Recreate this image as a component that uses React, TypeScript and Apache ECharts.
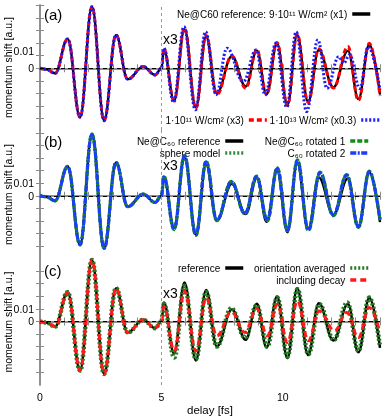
import React, { useEffect, useRef } from 'react';
import * as echarts from 'echarts';

// delay [fs] and momentum shift [a.u.] before 5 fs (shared by all curves)
const preDelay = [0, 0.25, 0.62, 1.14, 1.65, 2.14, 2.64, 3.13, 3.61, 4.25, 4.74, 5.0];
const preShift = [0, -0.0008, -0.004, 0.0233, -0.0389, 0.0489, -0.0416, 0.0264, -0.0087, 0.0013, -0.0053, 0];

// after 5 fs (displayed x3) : [delay, shift]
const refPost: [number, number][] = [
  [5.1, 0.015], [5.52, -0.0255], [5.95, 0.031], [6.42, -0.031], [6.84, 0.025], [7.28, -0.0198],
  [7.9, 0.0095], [8.47, -0.0145], [8.93, 0.014], [9.33, -0.0206], [9.76, 0.0198], [10.19, -0.029],
  [10.59, 0.0264], [11.04, -0.0265], [11.48, 0.0145], [12.08, -0.0151], [12.68, 0.0138],
  [13.11, -0.0245], [13.56, 0.0188], [14.0, -0.021],
];
const lowPost: [number, number][] = [
  [5.1, 0.0155], [5.52, -0.026], [5.95, 0.0318], [6.42, -0.0315], [6.84, 0.026], [7.28, -0.021],
  [7.9, 0.0098], [8.47, -0.0158], [8.93, 0.0148], [9.33, -0.021], [9.76, 0.0205], [10.19, -0.0297],
  [10.59, 0.027], [11.04, -0.027], [11.48, 0.0152], [12.08, -0.0157], [12.68, 0.0172],
  [13.11, -0.0255], [13.56, 0.0198], [14.0, -0.022],
];
const highPost: [number, number][] = [
  [5.1, 0.016], [5.5, -0.027], [5.93, 0.033], [6.4, -0.033], [6.82, 0.029], [7.25, -0.021],
  [7.7, 0.0159], [8.37, -0.0106], [8.9, 0.0145], [9.27, -0.021], [9.72, 0.02], [10.16, -0.031],
  [10.55, 0.029], [10.98, -0.0344], [11.44, 0.0225], [11.82, -0.0159], [12.3, 0.0092],
  [12.5, 0.004], [12.75, 0.0106], [13.17, -0.016], [13.52, 0.017], [14.0, -0.017],
];
const spherePost: [number, number][] = [
  [5.1, 0.015], [5.52, -0.026], [5.95, 0.031], [6.42, -0.031], [6.84, 0.026], [7.28, -0.0195],
  [7.88, 0.0105], [8.44, -0.014], [8.92, 0.0148], [9.36, -0.0195], [9.77, 0.021], [10.19, -0.0275],
  [10.6, 0.0272], [11.05, -0.027], [11.53, 0.0175], [12.08, -0.0152], [12.63, 0.016],
  [13.11, -0.0245], [13.56, 0.0188], [14.0, -0.019],
];
const rot1Post: [number, number][] = [
  [5.1, 0.0155], [5.52, -0.0268], [5.95, 0.032], [6.42, -0.0315], [6.84, 0.0275], [7.28, -0.0197],
  [7.88, 0.0114], [8.44, -0.0145], [8.92, 0.0155], [9.36, -0.0198], [9.77, 0.0222], [10.19, -0.0278],
  [10.6, 0.0285], [11.05, -0.0277], [11.53, 0.0188], [12.08, -0.0158], [12.63, 0.0168],
  [13.11, -0.025], [13.56, 0.0195], [14.0, -0.0195],
];
const rot2Post: [number, number][] = [
  [5.1, 0.015], [5.52, -0.0265], [5.95, 0.0315], [6.42, -0.031], [6.84, 0.027], [7.28, -0.0193],
  [7.88, 0.0111], [8.44, -0.014], [8.92, 0.015], [9.36, -0.0193], [9.77, 0.0217], [10.19, -0.0272],
  [10.6, 0.0278], [11.05, -0.0272], [11.53, 0.0183], [12.08, -0.0153], [12.63, 0.0164],
  [13.11, -0.0246], [13.56, 0.019], [14.0, -0.019],
];
const avgPost: [number, number][] = [
  [5.1, 0.014], [5.53, -0.0286], [5.95, 0.0283], [6.42, -0.0298], [6.84, 0.0235], [7.28, -0.0198],
  [7.88, 0.0105], [8.44, -0.0127], [8.92, 0.0129], [9.36, -0.0198], [9.77, 0.019], [10.19, -0.0278],
  [10.6, 0.0256], [11.05, -0.026], [11.5, 0.0137], [12.1, -0.0146], [12.65, 0.015],
  [13.11, -0.0233], [13.56, 0.019], [14.0, -0.02],
];
const decayPost: [number, number][] = [
  [5.1, 0.012], [5.53, -0.0233], [5.95, 0.0241], [6.42, -0.0235], [6.84, 0.019], [7.28, -0.0114],
  [7.88, 0.0076], [8.44, -0.0087], [8.92, 0.0103], [9.36, -0.0114], [9.77, 0.0137], [10.19, -0.0167],
  [10.6, 0.0163], [11.05, -0.0153], [11.5, 0.0084], [12.13, -0.0074], [12.63, 0.0071],
  [13.11, -0.0127], [13.56, 0.0111], [14.0, -0.0087],
];

const xTickLabels = [0, 5, 10];
const yTickValues = [-0.04, -0.03, -0.02, -0.01, 0, 0.01, 0.02, 0.03, 0.04, 0.05];
const yRanges: [number, number][] = [[-0.049, 0.0502], [-0.0502, 0.0522], [-0.0504, 0.0496]];
const yLabelValues = [[0, 0.0136], [0, 0.01], [0, 0.01]];

const FONT = 'Liberation Sans, Arial, sans-serif';
const FRAME = '#8a8a8a';

function withPre(post: [number, number][]) {
  return preDelay.map((d, i) => [d, preShift[i]]).concat(post);
}

export default function App() {
  const ref = useRef<HTMLDivElement>(null);
  useEffect(() => {
    if (!ref.current) return;
    const chart = echarts.init(ref.current, null, { renderer: 'svg' });
    const grids = [
      { left: 40, top: 5, width: 340, height: 125, outerBoundsMode: 'none', containLabel: false },
      { left: 40, top: 130, width: 340, height: 129, outerBoundsMode: 'none', containLabel: false },
      { left: 40, top: 259, width: 340, height: 126, outerBoundsMode: 'none', containLabel: false },
    ];
    const xAxis: any[] = [];
    const yAxis: any[] = [];
    grids.forEach((_, g) => {
      const last = g === 2;
      xAxis.push({
        type: 'value', gridIndex: g, position: 'bottom', min: 0, max: 14, interval: 1,
        axisLine: { lineStyle: { color: FRAME, width: 1.5 } },
        axisTick: { inside: true, length: 4, lineStyle: { color: FRAME, width: 1 } },
        axisLabel: {
          show: last, margin: 6, color: '#000', fontFamily: FONT, fontSize: 10.5,
          formatter: (v: number) => (xTickLabels.includes(v) ? String(v) : ''),
        },
        splitLine: { show: false },
        name: last ? 'delay [fs]' : '', nameLocation: 'middle', nameGap: 19, nameMoveOverlap: false,
        nameTextStyle: { color: '#000', fontFamily: FONT, fontSize: 11.5 },
      });
      xAxis.push({
        type: 'value', gridIndex: g, position: 'top', min: 0, max: 14, interval: 1,
        axisLine: { lineStyle: { color: FRAME, width: 1.5 } },
        axisTick: { inside: true, length: 4, lineStyle: { color: FRAME, width: 1 } },
        axisLabel: { show: false }, splitLine: { show: false },
      });
      const labVals = yLabelValues[g];
      yAxis.push({
        type: 'value', gridIndex: g, position: 'left', min: yRanges[g][0], max: yRanges[g][1],
        axisLine: { show: true, lineStyle: { color: FRAME, width: 1.5 } },
        axisTick: { show: true, inside: false, length: 4, customValues: yTickValues, lineStyle: { color: FRAME, width: 1 } },
        axisLabel: {
          customValues: labVals, margin: 6, color: '#000', fontFamily: FONT, fontSize: 10.5,
          formatter: (v: number) => (v === 0 ? '0' : '0.01'),
        },
        splitLine: { show: false },
        name: 'momentum shift [a.u.]', nameLocation: 'middle', nameGap: 27, nameMoveOverlap: false,
        nameTextStyle: { color: '#000', fontFamily: FONT, fontSize: 10.5 },
      });
      yAxis.push({
        type: 'value', gridIndex: g, position: 'right', min: yRanges[g][0], max: yRanges[g][1],
        axisLine: { show: true, lineStyle: { color: FRAME, width: 1.5 } },
        axisTick: { show: true, inside: false, length: 4, customValues: yTickValues, lineStyle: { color: FRAME, width: 1 } },
        axisLabel: { show: false }, splitLine: { show: false },
      });
    });

    const guides = {
      silent: true, symbol: 'none', label: { show: false },
      data: [
        { yAxis: 0, lineStyle: { color: '#000', width: 1, type: [4, 3] } },
        { xAxis: 5, lineStyle: { color: '#999', width: 1, type: [3, 3] } },
      ],
    };
    const mk = (g: number, name: string, post: [number, number][], color: string, width: number, type: any, z: number, mark = false) => ({
      type: 'line', name, xAxisIndex: g * 2, yAxisIndex: g * 2, data: withPre(post),
      smooth: 0.4, smoothMonotone: 'x', showSymbol: false, symbol: 'none', z,
      lineStyle: { color, width, type }, itemStyle: { color },
      markLine: mark ? guides : undefined,
    });

    const series = [
      mk(0, 'Ne@C60 reference: 9·10¹¹ W/cm² (x1)', refPost, '#000', 2.4, 'solid', 2, true),
      mk(0, '1·10¹¹ W/cm² (x3)', lowPost, '#ff0000', 3, [5, 3], 3),
      mk(0, '1·10¹³ W/cm² (x0.3)', highPost, '#1a1aff', 3, [2, 2], 4),
      mk(1, 'Ne@C₆₀ reference', refPost, '#000', 2.4, 'solid', 2, true),
      mk(1, 'sphere model', spherePost, '#2e8b3e', 3, [2, 2], 3),
      mk(1, 'Ne@C₆₀ rotated 1', rot1Post, '#138a13', 3.3, [5, 2], 4),
      mk(1, 'C₆₀ rotated 2', rot2Post, '#1a3cff', 3, [6, 1.5, 2, 1.5], 5),
      mk(2, 'reference', refPost, '#000', 2.5, 'solid', 2, true),
      mk(2, 'orientation averaged', avgPost, '#1d7a1d', 4.5, [2, 2], 3),
      mk(2, 'including decay', decayPost, '#ff1a1a', 3, [6, 4], 4),
    ];

    const legendBase = {
      align: 'right', itemWidth: 18, itemHeight: 10, itemGap: 2, padding: 0, selectedMode: false,
      itemStyle: { opacity: 0 },
      lineStyle: { width: 3.5 },
      textStyle: { color: '#000', fontFamily: FONT, fontSize: 10, lineHeight: 12 },
    };
    const legend = [
      { ...legendBase, data: ['Ne@C60 reference: 9·10¹¹ W/cm² (x1)'], right: 14, top: 8 },
      { ...legendBase, orient: 'horizontal', itemGap: 1, data: ['1·10¹¹ W/cm² (x3)', '1·10¹³ W/cm² (x0.3)'], right: 5, top: 114 },
      { ...legendBase, orient: 'vertical', itemGap: 0, data: ['Ne@C₆₀ reference', 'sphere model'], right: 141, top: 135 },
      { ...legendBase, orient: 'vertical', itemGap: 0, data: ['Ne@C₆₀ rotated 1', 'C₆₀ rotated 2'], right: 16, top: 135 },
      { ...legendBase, orient: 'vertical', itemGap: 0, data: ['reference'], right: 141, top: 262 },
      { ...legendBase, orient: 'vertical', itemGap: 0, data: ['orientation averaged', 'including decay'], right: 16, top: 262 },
    ];

    const txt = (text: string, left: number, top: number, size: number) => ({
      type: 'text', left, top, silent: true,
      style: { text, fill: '#000', font: `${size}px ${FONT}` },
    });

    chart.setOption({
      animation: false,
      grid: grids,
      xAxis, yAxis, series, legend,
      graphic: [
        txt('(a)', 44, 7, 15), txt('(b)', 44, 134, 15), txt('(c)', 44, 263, 15),
        txt('x3', 163, 32, 14), txt('x3', 163, 158, 14), txt('x3', 163, 286, 14),
      ],
    });
    return () => chart.dispose();
  }, []);
  return <div ref={ref} style={{ position: 'fixed', left: 0, top: 0, width: 386, height: 416 }} />;
}
